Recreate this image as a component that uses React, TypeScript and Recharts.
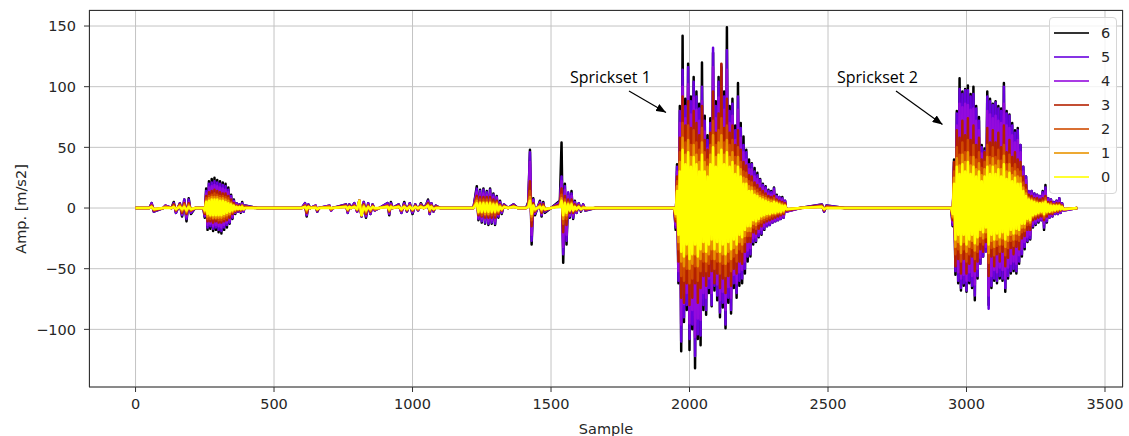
import React from 'react';
import { LineChart, Line, XAxis, YAxis, CartesianGrid, Legend } from 'recharts';

// Sample positions (x axis)
const sampleIdx = [
  // lead-in small bumps
  0, 50, 58, 66, 100, 108, 130, 138, 146, 160, 168, 176, 184, 192, 200, 215,
  // small burst ~250-395
  245, 250, 255, 260, 265, 270, 275, 280, 285, 290, 295, 300, 305, 310, 315, 320, 325, 330, 335, 340, 345, 350, 355, 360, 365, 370, 375, 380, 385, 390, 395, 440,
  // scattered bumps 600-1100
  600, 612, 618, 624, 630, 650, 656, 662, 700, 706, 712, 760, 766, 772, 778, 790, 800, 808, 816, 824, 832, 840, 848, 856, 864, 880, 910, 916, 922, 928, 950, 960, 970, 980, 990, 1000, 1010, 1020, 1030, 1040, 1050, 1056, 1062, 1068, 1076, 1084, 1100,
  // burst 1230-1340, spikes 1427 and 1541
  1220, 1232, 1238, 1244, 1250, 1256, 1262, 1268, 1274, 1280, 1286, 1292, 1298, 1304, 1310, 1316, 1322, 1330, 1345, 1365, 1380, 1410, 1418, 1424, 1430, 1436, 1442, 1460, 1466, 1472, 1478, 1500, 1532, 1538, 1544, 1550, 1556, 1562, 1568, 1574, 1580, 1586, 1592, 1600, 1608, 1616, 1624, 1660,
  // Sprickset 1
  1945, 1950, 1955, 1960, 1965, 1970, 1975, 1980, 1985, 1990, 1995, 2000, 2005, 2010, 2015, 2020, 2025, 2030, 2035, 2040,
  2045, 2050, 2055, 2060, 2065, 2070, 2075, 2080, 2085, 2090, 2095, 2100, 2105, 2110, 2115, 2120, 2125, 2130, 2135, 2140,
  2145, 2150, 2155, 2160, 2165, 2170, 2175, 2180, 2185, 2190, 2195, 2200, 2205, 2210, 2215, 2220, 2225, 2230, 2235, 2240,
  2245, 2250, 2255, 2260, 2265, 2270, 2275, 2280, 2285, 2290, 2295, 2300, 2305, 2310, 2315, 2320, 2325, 2330, 2335, 2340,
  2345, 2350,
  // tail
  2400, 2478, 2486, 2494, 2560,
  // Sprickset 2
  2945, 2950, 2955, 2960, 2965, 2970, 2975, 2980, 2985, 2990, 2995, 3000, 3005, 3010, 3015, 3020, 3025, 3030, 3035, 3040,
  3045, 3050, 3055, 3060, 3065, 3070, 3075, 3080, 3085, 3090, 3095, 3100, 3105, 3110, 3115, 3120, 3125, 3130, 3135, 3140,
  3145, 3150, 3155, 3160, 3165, 3170, 3175, 3180, 3185, 3190, 3195, 3200, 3205, 3210, 3215, 3220, 3225, 3230, 3235, 3240,
  3245, 3250, 3255, 3260, 3265, 3270, 3275, 3280, 3285, 3290, 3295, 3300, 3305, 3310, 3315, 3320, 3325, 3330, 3335, 3340,
  3345, 3350,
  // end
  3400,
];

const amp6 = [
  0, 0, 4, -3, 0, 2, 0, 5, -4, 4, -7, 7, -11, 8, -5, 0,
  0, -8, 16, -18, 22, -17, 24, -19, 25, -18, 23, -20, 22, -21, 21, -18, 20, -16, 17, -13, 11, -9, 7, -5, 4, -3, 3, -4, 5, -3, 2, 0,
  0, 4, -7, 3, 0, 2, -3, 0, 2, -2, 0, 3, -4, 3, 0, 4, -3, 6, -7, 5, -8, 4, -5, 3, -2, 0, 4, -6, 5, 0, 3, -4, 5, -3, 4, -5, 3, -2, 4, 0, 3, 7, -5, 4, -3, 2, 0,
  0, 18, -10, 15, -12, 16, -13, 14, -14, 16, -13, 12, -14, 10, -8, 6, -5, 3, 0, 3, 0, 0, 5, 48, -30, 8, -6, 6, -7, 5, -4, 0, 6, 54, -45, 20, -30, 12, -8, 14, -9, 6, -4, 4, -3, 3, -2, 0,
  0, -18, 36, -62, 84, -118, 142, -94, 90, -84, 119, -117, 92, -100, 108, -132, 96, -108, 86, -113,
  120, -84, 76, -88, 60, -70, 74, -81, 128, -68, 88, -76, 108, -90, 116, -82, 96, -99, 149, -78,
  84, -87, 90, -66, 68, -74, 103, -64, 70, -62, 59, -54, 48, -44, 40, -40, 37, -30, 33, -28,
  29, -24, 24, -22, 20, -18, 18, -15, 15, -14, 14, -12, 17, -11, 11, -10, 9, -9, 9, -8,
  6, -3,
  0, 3, -3, 2, 0,
  0, -15, 40, -55, 80, -62, 107, -68, 96, -64, 98, -69, 101, -62, 94, -66, 100, -76, 84, -58,
  75, -46, 52, -40, 49, -35, 96, -80, 90, -66, 86, -60, 88, -62, 84, -58, 82, -60, 103, -69,
  80, -58, 77, -54, 70, -52, 64, -54, 66, -46, 52, -40, 34, -34, 26, -28, 13, -26, 14, -16,
  12, -14, 11, -12, 10, -10, 14, -18, 19, -12, 8, -8, 7, -7, 5, -5, 6, -5, 8, -4,
  4, -2,
  0,
];

const amp5 = [
  0, 0, 4, -3, 0, 2, 0, 4, -4, 4, -6, 7, -9, 7, -4, 0,
  0, -7, 14, -16, 20, -15, 21, -17, 22, -16, 21, -18, 20, -19, 19, -16, 18, -14, 15, -12, 10, -8, 6, -4, 4, -3, 3, -3, 4, -3, 2, 0,
  0, 4, -6, 3, 0, 2, -3, 0, 2, -2, 0, 3, -4, 3, 0, 4, -3, 6, -7, 5, -7, 4, -5, 3, -2, 0, 4, -5, 4, 0, 3, -4, 4, -3, 4, -4, 3, -2, 3, 0, 3, 6, -5, 4, -3, 2, 0,
  0, 16, -9, 14, -11, 15, -12, 13, -13, 15, -12, 11, -13, 9, -7, 5, -4, 3, 0, 3, 0, 0, 4, 46, -27, 7, -5, 5, -6, 4, -3, 0, 5, 26, -38, 18, -27, 13, -7, 12, -8, 5, -4, 4, -2, 3, -2, 0,
  0, -16, 34, -60, 80, -110, 114, -90, 84, -80, 116, -108, 88, -96, 104, -122, 92, -104, 82, -105,
  100, -80, 72, -84, 56, -66, 70, -80, 132, -64, 84, -72, 104, -86, 118, -78, 92, -96, 130, -74,
  80, -84, 86, -62, 64, -70, 92, -60, 66, -58, 52, -50, 46, -40, 36, -38, 36, -28, 30, -27,
  27, -23, 23, -21, 19, -17, 17, -15, 14, -14, 13, -12, 16, -11, 10, -10, 9, -9, 8, -8,
  6, -3,
  0, 3, -3, 2, 0,
  0, -14, 38, -52, 78, -60, 98, -66, 94, -62, 97, -68, 97, -60, 92, -64, 94, -72, 82, -56,
  72, -46, 50, -40, 47, -36, 92, -83, 88, -64, 85, -58, 87, -60, 82, -56, 80, -58, 100, -66,
  78, -56, 76, -52, 68, -50, 62, -52, 64, -44, 52, -38, 34, -32, 26, -27, 14, -25, 14, -15,
  12, -13, 11, -11, 10, -10, 13, -16, 17, -11, 8, -8, 7, -7, 5, -5, 6, -5, 8, -4,
  4, -2,
  0,
];

const amp4 = [
  0, 0, 3, -2, 0, 2, 0, 3, -3, 3, -5, 5, -7, 5, -3, 0,
  0, -6, 12, -14, 17, -13, 18, -15, 19, -14, 18, -15, 17, -16, 16, -14, 15, -12, 13, -10, 8, -7, 5, -4, 3, -2, 2, -3, 3, -2, 1, 0,
  0, 3, -5, 2, 0, 2, -2, 0, 2, -2, 0, 2, -3, 2, 0, 3, -3, 6, -6, 4, -6, 3, -4, 2, -2, 0, 3, -4, 3, 0, 2, -3, 3, -2, 3, -3, 2, -2, 3, 0, 2, 5, -4, 3, -2, 1, 0,
  0, 13, -8, 12, -9, 12, -10, 11, -11, 12, -10, 9, -11, 8, -6, 4, -3, 2, 0, 2, 0, 0, 3, 38, -22, 6, -4, 4, -5, 3, -2, 0, 4, 22, -32, 15, -22, 10, -6, 10, -6, 4, -3, 3, -2, 2, -1, 0,
  0, -14, 30, -52, 70, -96, 100, -79, 74, -70, 102, -95, 77, -84, 91, -106, 81, -91, 72, -92,
  88, -70, 63, -74, 49, -58, 62, -70, 116, -56, 74, -63, 91, -76, 112, -69, 81, -84, 114, -65,
  70, -74, 76, -55, 56, -62, 81, -53, 58, -51, 46, -44, 40, -35, 32, -33, 32, -25, 26, -24,
  24, -20, 20, -18, 17, -15, 15, -13, 12, -12, 11, -11, 14, -10, 9, -9, 8, -8, 7, -7,
  5, -3,
  0, 2, -2, 1, 0,
  0, -12, 34, -46, 68, -53, 86, -58, 83, -55, 86, -60, 85, -53, 81, -56, 82, -63, 72, -50,
  64, -41, 45, -36, 42, -32, 80, -72, 77, -56, 74, -51, 76, -53, 72, -49, 70, -51, 86, -58,
  68, -49, 66, -46, 60, -44, 54, -46, 56, -39, 46, -34, 30, -28, 23, -24, 12, -22, 12, -13,
  10, -11, 10, -10, 9, -9, 11, -13, 14, -9, 7, -7, 6, -6, 4, -4, 5, -4, 6, -3,
  3, -2,
  0,
];

const amp3 = [
  0, 0, 2, -2, 0, 1, 0, 3, -2, 3, -4, 4, -5, 4, -2, 0,
  0, -5, 10, -11, 13, -11, 14, -12, 15, -11, 14, -12, 13, -12, 12, -11, 12, -10, 10, -8, 7, -5, 4, -3, 2, -2, 2, -2, 2, -1, 1, 0,
  0, 2, -4, 2, 0, 1, -2, 0, 1, -1, 0, 2, -2, 2, 0, 2, -2, 6, -6, 3, -5, 2, -3, 2, -1, 0, 2, -3, 2, 0, 2, -2, 2, -2, 2, -2, 2, -1, 2, 0, 2, 4, -3, 2, -2, 1, 0,
  0, 10, -6, 9, -7, 9, -8, 9, -8, 9, -8, 7, -8, 6, -5, 3, -2, 2, 0, 2, 0, 0, 2, 22, -15, 4, -3, 3, -4, 3, -2, 0, 3, 16, -20, 10, -14, 7, -4, 7, -4, 3, -2, 2, -1, 1, -1, 0,
  0, -11, 26, -44, 58, -74, 92, -78, 68, -62, 88, -80, 66, -74, 80, -62, 70, -78, 60, -66,
  84, -56, 56, -64, 48, -56, 62, -52, 96, -62, 62, -54, 78, -66, 119, -58, 66, -70, 90, -56,
  62, -64, 68, -50, 52, -54, 64, -44, 48, -46, 38, -36, 35, -28, 27, -28, 26, -20, 21, -21,
  19, -17, 16, -15, 14, -12, 12, -11, 10, -10, 9, -9, 10, -8, 7, -7, 6, -6, 5, -5,
  4, -2,
  0, 2, -2, 1, 0,
  0, -10, 38, -48, 64, -42, 58, -54, 72, -42, 60, -54, 74, -46, 56, -40, 68, -52, 52, -44,
  58, -34, 40, -36, 46, -28, 66, -56, 54, -40, 64, -48, 54, -38, 62, -44, 50, -36, 68, -48,
  46, -41, 56, -33, 42, -38, 46, -32, 40, -34, 38, -25, 26, -23, 19, -18, 11, -18, 10, -10,
  8, -9, 8, -8, 7, -7, 8, -10, 10, -7, 5, -5, 5, -5, 3, -3, 4, -3, 4, -2,
  2, -1,
  0,
];

const amp2 = [
  0, 0, 2, -1, 0, 1, 0, 2, -2, 2, -3, 3, -4, 3, -2, 0,
  0, -4, 8, -9, 10, -9, 11, -9, 12, -9, 11, -10, 10, -10, 10, -9, 9, -8, 8, -6, 5, -4, 3, -2, 2, -1, 1, -2, 2, -1, 1, 0,
  0, 2, -3, 1, 0, 1, -1, 0, 1, -1, 0, 1, -2, 1, 0, 2, -1, 6, -6, 2, -4, 2, -2, 1, -1, 0, 2, -2, 2, 0, 1, -2, 2, -1, 2, -2, 1, -1, 2, 0, 1, 3, -2, 2, -1, 1, 0,
  0, 8, -5, 7, -6, 7, -6, 7, -6, 7, -6, 5, -6, 5, -4, 2, -2, 1, 0, 1, 0, 0, 2, 14, -10, 3, -2, 2, -3, 2, -1, 0, 2, 11, -13, 7, -9, 5, -3, 5, -3, 2, -2, 2, -1, 1, -1, 0,
  0, -9, 22, -34, 46, -56, 70, -60, 54, -50, 68, -62, 52, -58, 64, -48, 54, -60, 48, -52,
  66, -44, 46, -52, 40, -46, 52, -42, 72, -50, 52, -44, 64, -54, 74, -46, 54, -56, 68, -44,
  52, -52, 56, -40, 42, -44, 50, -34, 38, -36, 30, -28, 29, -23, 22, -23, 21, -16, 17, -17,
  15, -13, 13, -12, 11, -10, 10, -9, 8, -8, 7, -7, 8, -6, 6, -5, 5, -5, 4, -4,
  3, -1,
  0, 1, -1, 1, 0,
  0, -8, 30, -38, 50, -34, 44, -44, 54, -34, 46, -44, 56, -38, 42, -33, 52, -42, 40, -36,
  46, -28, 33, -30, 38, -24, 52, -45, 42, -33, 50, -39, 42, -31, 48, -36, 39, -30, 52, -39,
  36, -33, 44, -27, 33, -31, 36, -26, 32, -27, 30, -20, 21, -19, 15, -14, 9, -14, 8, -8,
  7, -7, 6, -6, 5, -5, 6, -8, 8, -5, 4, -4, 4, -4, 3, -3, 3, -2, 3, -2,
  2, -1,
  0,
];

const amp1 = [
  0, 0, 1, -1, 0, 1, 0, 1, -1, 2, -2, 2, -3, 2, -1, 0,
  0, -3, 6, -7, 8, -7, 9, -8, 9, -8, 9, -8, 8, -8, 8, -7, 7, -6, 6, -5, 4, -3, 2, -2, 1, -1, 1, -1, 2, -1, 0, 0,
  0, 1, -2, 1, 0, 1, -1, 0, 1, -1, 0, 1, -1, 1, 0, 1, -1, 6, -6, 2, -3, 1, -2, 1, -1, 0, 1, -2, 1, 0, 1, -1, 1, -1, 1, -1, 1, -1, 1, 0, 1, 2, -2, 1, -1, 0, 0,
  0, 6, -4, 5, -4, 5, -5, 5, -5, 5, -4, 4, -4, 4, -3, 2, -1, 1, 0, 1, 0, 0, 1, 9, -7, 2, -2, 2, -2, 1, -1, 0, 2, 8, -9, 5, -6, 4, -2, 4, -2, 1, -1, 1, -1, 1, 0, 0,
  0, -7, 18, -28, 38, -44, 58, -48, 44, -38, 56, -50, 42, -46, 52, -38, 44, -48, 38, -42,
  54, -36, 38, -44, 34, -38, 44, -34, 60, -42, 42, -36, 54, -44, 60, -38, 44, -46, 56, -36,
  42, -42, 46, -33, 35, -37, 42, -28, 32, -30, 25, -23, 24, -19, 18, -19, 17, -13, 14, -14,
  12, -11, 10, -9, 9, -8, 8, -7, 7, -6, 6, -5, 6, -5, 5, -4, 4, -4, 3, -3,
  2, -1,
  0, 1, -1, 0, 0,
  0, -7, 25, -32, 41, -28, 35, -37, 44, -28, 38, -36, 46, -32, 35, -27, 42, -35, 32, -30,
  37, -23, 27, -25, 32, -20, 42, -37, 35, -27, 41, -32, 35, -26, 39, -30, 32, -25, 43, -32,
  30, -27, 36, -22, 27, -26, 30, -21, 26, -22, 25, -16, 17, -16, 12, -11, 8, -12, 7, -7,
  6, -6, 5, -5, 4, -4, 5, -6, 6, -4, 3, -3, 3, -3, 2, -2, 2, -2, 2, -1,
  1, -1,
  0,
];

const amp0 = [
  0, 0, 1, -1, 0, 0, 0, 1, -1, 1, -1, 1, -2, 1, -1, 0,
  0, -2, 5, -5, 6, -6, 7, -6, 7, -6, 7, -6, 6, -6, 6, -5, 5, -4, 4, -3, 3, -2, 2, -1, 1, -1, 1, -1, 1, -1, 0, 0,
  0, 1, -1, 1, 0, 0, -1, 0, 0, 0, 0, 1, -1, 1, 0, 1, -1, 6, -6, 1, -2, 1, -1, 1, 0, 0, 1, -1, 1, 0, 1, -1, 1, -1, 1, -1, 1, 0, 1, 0, 1, 2, -1, 1, -1, 0, 0,
  0, 4, -3, 4, -3, 4, -3, 4, -3, 4, -3, 3, -3, 3, -2, 1, -1, 1, 0, 1, 0, 0, 1, 6, -5, 2, -1, 1, -1, 1, -1, 0, 1, 6, -6, 4, -4, 3, -2, 3, -2, 1, -1, 1, -1, 0, 0, 0,
  0, -5, 14, -22, 30, -36, 48, -40, 36, -30, 46, -42, 34, -38, 42, -30, 36, -40, 30, -34,
  44, -28, 30, -36, 26, -30, 36, -26, 50, -34, 34, -28, 44, -36, 48, -30, 36, -38, 46, -28,
  34, -34, 38, -26, 28, -30, 34, -22, 26, -24, 20, -18, 20, -15, 14, -15, 14, -10, 11, -11,
  10, -9, 8, -7, 7, -6, 6, -5, 5, -5, 4, -4, 5, -4, 4, -3, 3, -3, 2, -2,
  2, -1,
  0, 1, -1, 0, 0,
  0, -5, 20, -26, 34, -22, 28, -30, 36, -22, 30, -30, 38, -26, 28, -22, 34, -29, 26, -24,
  30, -18, 22, -20, 26, -16, 34, -30, 28, -22, 34, -26, 28, -21, 32, -24, 26, -20, 36, -26,
  24, -22, 29, -18, 22, -21, 25, -17, 20, -18, 20, -13, 14, -13, 10, -9, 7, -10, 6, -6,
  5, -5, 4, -4, 4, -3, 4, -5, 5, -3, 3, -3, 2, -2, 2, -2, 2, -1, 2, -1,
  1, -1,
  0,
];

const seriesNames = ['6', '5', '4', '3', '2', '1', '0'];
const seriesColors = ['#000000', '#6801dd', '#930add', '#b42000', '#d04b00', '#e99400', '#ffff00'];
const seriesValues = [amp6, amp5, amp4, amp3, amp2, amp1, amp0];

const xTicks = [0, 500, 1000, 1500, 2000, 2500, 3000, 3500];
const yTicks = [-100, -50, 0, 50, 100, 150];

const rows = sampleIdx.map((x, i) => {
  const r: any = { x };
  seriesNames.forEach((n, k) => {
    r['s' + n] = seriesValues[k][i];
  });
  return r;
});

const lengthProblems = seriesValues
  .map((arr, k) => (arr.length !== sampleIdx.length ? `s${seriesNames[k]}:${arr.length}/${sampleIdx.length}` : ''))
  .filter(Boolean)
  .join(' ');

const FONT = 'DejaVu Sans, sans-serif';
const fmt = (v: number) => (v < 0 ? '\u2212' + Math.abs(v) : String(v));

const LegendBox = () => (
  <div
    style={{
      width: 68,
      height: 177,
      boxSizing: 'border-box',
      border: '1px solid #d6d6d6',
      borderRadius: 4,
      background: 'rgba(255,255,255,0.8)',
      position: 'relative',
    }}
  >
    <svg width={68} height={177} style={{ position: 'absolute', left: 0, top: 0 }}>
      {seriesNames.map((n, i) => (
        <g key={n}>
          <line x1={4} x2={39} y1={15 + i * 24} y2={15 + i * 24} stroke={seriesColors[i]} strokeOpacity={0.8} strokeWidth={2.2} />
          <text x={51} y={15 + i * 24} dy="0.36em" fontSize={14.5} fontFamily={FONT} fill="#262626">
            {n}
          </text>
        </g>
      ))}
    </svg>
  </div>
);

export default function App() {
  return (
    <div style={{ position: 'absolute', left: 0, top: 0, width: 1129, height: 436, background: '#fff' }}>
      <LineChart width={1129} height={436} data={rows} margin={{ top: 10, right: 6, bottom: 0, left: 0 }}>
        <CartesianGrid stroke="#c4c4c4" strokeWidth={1} />
        <XAxis
          dataKey="x"
          type="number"
          domain={[-168, 3565]}
          ticks={xTicks}
          allowDataOverflow
          height={49}
          tickSize={5}
          tickMargin={7}
          axisLine={false}
          tickLine={{ stroke: '#333' }}
          tick={{ fontSize: 14.5, fill: '#262626', fontFamily: FONT }}
          interval={0}
        />
        <YAxis
          type="number"
          domain={[-147.5, 163.2]}
          ticks={yTicks}
          allowDataOverflow
          width={89}
          tickSize={5}
          tickMargin={8}
          axisLine={false}
          tickLine={{ stroke: '#333' }}
          tick={{ fontSize: 14.5, fill: '#262626', fontFamily: FONT }}
          tickFormatter={fmt}
          interval={0}
        />
        {seriesNames.map((n, k) => (
          <Line
            key={n}
            dataKey={'s' + n}
            name={n}
            type="linear"
            stroke={seriesColors[k]}
            strokeWidth={2.5}
            strokeLinejoin="round"
            dot={false}
            activeDot={false}
            isAnimationActive={false}
          />
        ))}
        <Legend
          layout="vertical"
          align="center"
          verticalAlign="middle"
          content={<LegendBox />}
          wrapperStyle={{ position: 'absolute', left: 1049, top: 17, width: 68, height: 177, margin: 0 }}
        />
      </LineChart>
      <svg
        width={1129}
        height={436}
        style={{ position: 'absolute', left: 0, top: 0, pointerEvents: 'none' }}
      >
        <defs>
          <marker id="ahead" markerWidth={10} markerHeight={8} refX={10} refY={4} orient="auto" markerUnits="userSpaceOnUse">
            <path d="M0,0 L10,4 L0,8 z" fill="#000" />
          </marker>
        </defs>
        <rect x={89.5} y={10.5} width={1033} height={376.5} fill="none" stroke="#333" strokeWidth={1} />
        <text
          x={26}
          y={209}
          transform="rotate(-90 26 209)"
          textAnchor="middle"
          fontSize={14.5}
          fontFamily={FONT}
          fill="#262626"
        >
          Amp. [m/s2]
        </text>
        <text x={606} y={434} textAnchor="middle" fontSize={14.5} fontFamily={FONT} fill="#262626">
          Sample
        </text>
        <text x={570} y={83} fontSize={16} fontFamily="Open Sans, sans-serif" fill="#000">
          Sprickset 1
        </text>
        <line x1={629} y1={91} x2={666} y2={112.5} stroke="#000" strokeWidth={1.2} markerEnd="url(#ahead)" />
        <text x={837} y={83} fontSize={16} fontFamily="Open Sans, sans-serif" fill="#000">
          Sprickset 2
        </text>
        <line x1={896} y1={91} x2={942.5} y2={124.5} stroke="#000" strokeWidth={1.2} markerEnd="url(#ahead)" />
        {lengthProblems ? (
          <text x={300} y={300} fontSize={20} fill="red">
            {lengthProblems}
          </text>
        ) : null}
      </svg>
    </div>
  );
}
